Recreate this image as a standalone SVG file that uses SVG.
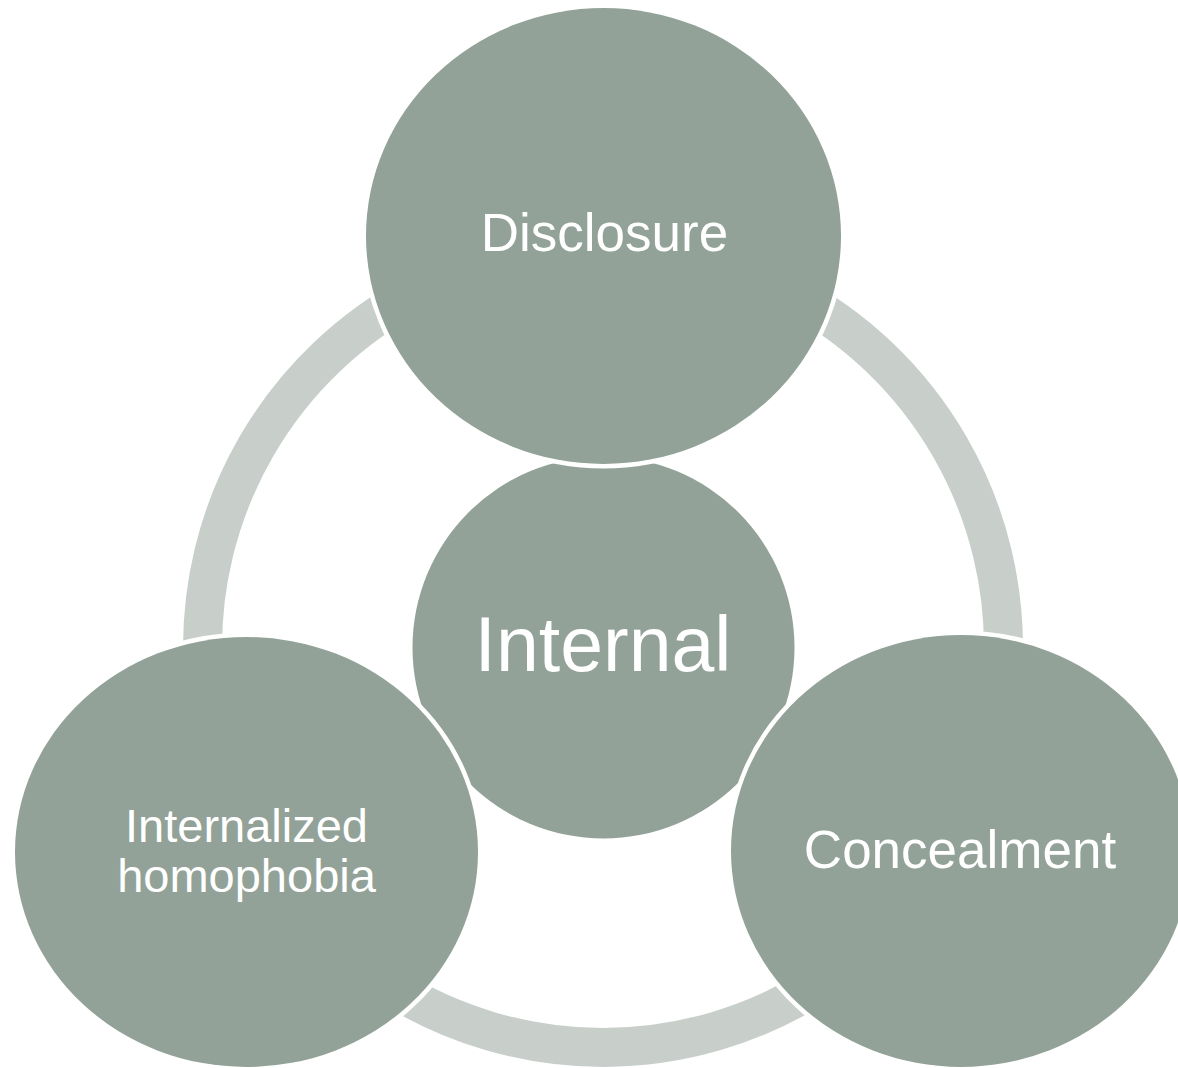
<svg xmlns="http://www.w3.org/2000/svg" width="1178" height="1068" viewBox="0 0 1178 1068">
  <style>
    .arc { fill: none; stroke: #c8cfcb; stroke-width: 39; stroke-linecap: butt; }
    .node { fill: #92a298; stroke: #ffffff; stroke-width: 9; paint-order: stroke; }
    .lbl { fill: #ffffff; font-family: "Liberation Sans", Arial, sans-serif; text-anchor: middle; }
  </style>
  <rect width="1178" height="1068" fill="#ffffff"/>
  <g id="connectors">
    <path class="arc" d="M 603 246.5 A 400.5 400.5 0 0 1 949.8 847.25"/>
    <path class="arc" d="M 949.8 847.25 A 400.5 400.5 0 0 1 256.2 847.25"/>
    <path class="arc" d="M 256.2 847.25 A 400.5 400.5 0 0 1 603 246.5"/>
  </g>
  <g id="node-internal">
    <circle class="node" cx="603.5" cy="647.5" r="191"/>
    <text class="lbl" x="603" y="671" font-size="77">Internal</text>
  </g>
  <g id="node-disclosure">
    <ellipse class="node" cx="603.5" cy="236" rx="237.5" ry="228"/>
    <text class="lbl" x="604.5" y="251" font-size="53">Disclosure</text>
  </g>
  <g id="node-concealment">
    <ellipse class="node" cx="961" cy="851" rx="230" ry="216"/>
    <text class="lbl" x="960" y="868" font-size="53">Concealment</text>
  </g>
  <g id="node-internalized-homophobia">
    <ellipse class="node" cx="246.5" cy="852" rx="231.5" ry="215"/>
    <text class="lbl" x="246.5" y="842" font-size="47">Internalized</text>
    <text class="lbl" x="246.5" y="892" font-size="47">homophobia</text>
  </g>
</svg>
